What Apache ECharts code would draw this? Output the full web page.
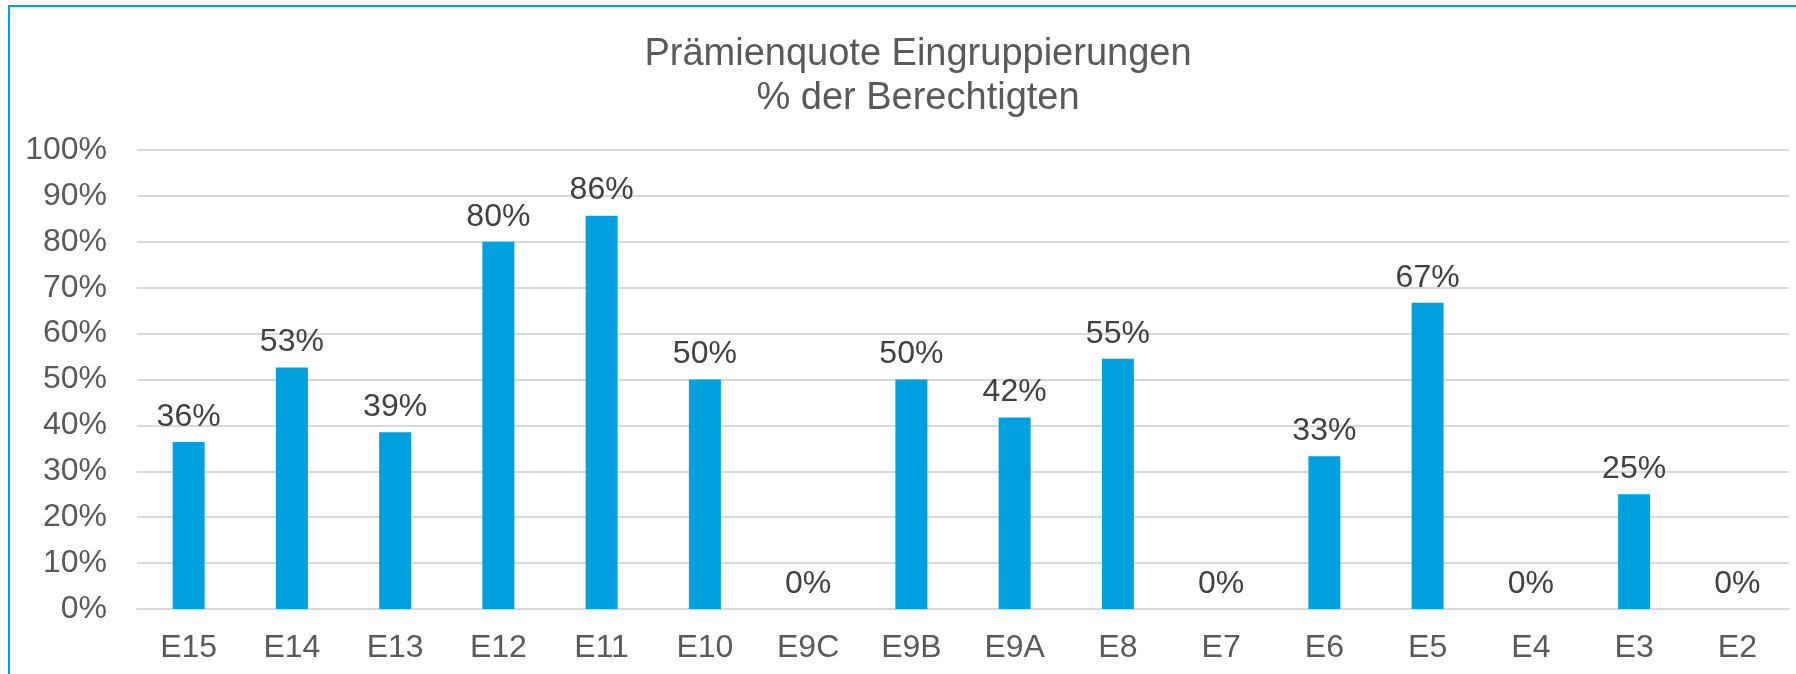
<!DOCTYPE html>
<html>
<head>
<meta charset="utf-8">
<script src="https://cdn.jsdelivr.net/npm/echarts@6/dist/echarts.min.js"></script>
<style>
  html, body { margin: 0; padding: 0; background: #fff; }
  #chart { width: 1796px; height: 674px; }
</style>
</head>
<body>
<div id="chart"></div>
<script>
const categories = ['E15', 'E14', 'E13', 'E12', 'E11', 'E10', 'E9C', 'E9B', 'E9A', 'E8', 'E7', 'E6', 'E5', 'E4', 'E3', 'E2'];
const quote = [36.4, 52.6, 38.5, 80, 85.7, 50, 0, 50, 41.7, 54.5, 0, 33.3, 66.7, 0, 25, 0];
const titleLines = ['Prämienquote Eingruppierungen', '% der Berechtigten'];

const fontFamily = 'Arial, "Liberation Sans", sans-serif';
var myChart = echarts.init(document.getElementById('chart'));

const option = {
    animation: false,
    backgroundColor: '#fff',
    title: {
        text: titleLines.join('\n'),
        left: 913,
        textAlign: 'center',
        top: 28,
        textStyle: {
            fontFamily,
            fontSize: 38,
            fontWeight: 'normal',
            color: '#595959',
            lineHeight: 44
        }
    },
    graphic: [{
        type: 'rect',
        shape: { x: 9, y: 6, width: 1820, height: 720 },
        style: { fill: 'none', stroke: '#0AA0DC', lineWidth: 2 },
        silent: true
    }],
    grid: {
        left: 137,
        right: 7,
        top: 150,
        bottom: 65,
        containLabel: false
    },
    xAxis: {
        type: 'category',
        data: categories,
        axisLine: { show: true, lineStyle: { color: '#D9D9D9', width: 2 } },
        axisTick: { show: false },
        axisLabel: {
            fontFamily,
            fontSize: 32,
            color: '#595959',
            margin: 23
        }
    },
    yAxis: {
        type: 'value',
        min: 0,
        max: 100,
        interval: 10,
        axisLine: { show: false },
        axisTick: { show: false },
        splitLine: { lineStyle: { color: '#D9D9D9', width: 2 } },
        axisLabel: {
            fontFamily,
            fontSize: 32,
            color: '#595959',
            margin: 30,
            formatter: v => v + '%'
        }
    },
    series: [{
        type: 'bar',
        data: quote,
        barWidth: 32,
        itemStyle: { color: '#00A0DF' },
        label: {
            show: true,
            position: 'top',
            distance: 9,
            fontFamily,
            fontSize: 32,
            color: '#404040',
            formatter: p => Math.round(p.value) + '%'
        }
    }]
};
myChart.setOption(option);
</script>
</body>
</html>
